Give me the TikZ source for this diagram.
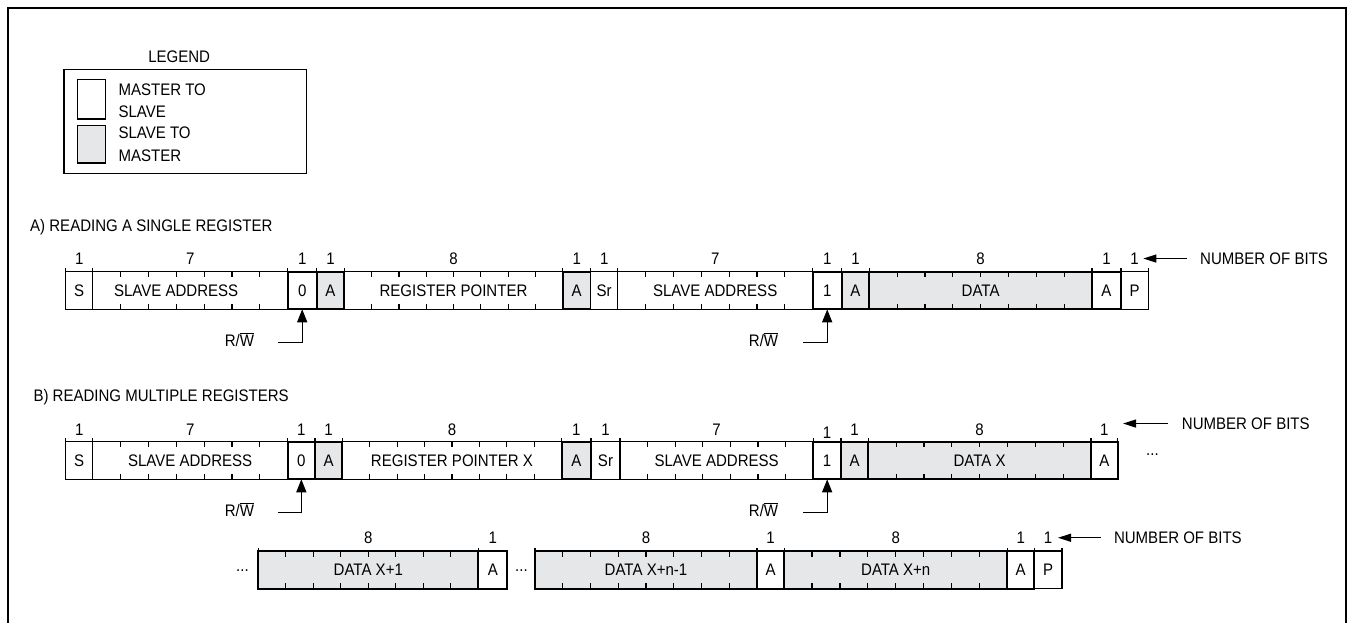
\documentclass[tikz,border=0pt]{standalone}
\usepackage{fontspec}
\setmainfont{Liberation Sans}[FakeStretch=0.9]
\usetikzlibrary{arrows.meta}
\definecolor{shade}{HTML}{E6E7E8}
\newcommand\dgmfont{\fontsize{16.7}{20}\selectfont}
\newcommand\fld[8]{%
  \pgfmathsetmacro\fldw{#4-#3}%
  \pgfmathsetmacro\fldc{(#3+#4)/2}%
  \node[#2, anchor=north west, minimum width=\fldw pt] (#1) at (#3,#5) {#7};
  \node[bitnum, anchor=base] (#1n) at (\fldc,#8) {#6};
  \draw[tk] (#3,#5) -- ++(0,-3.5);
  \ifnum#6>1
    \pgfmathtruncatemacro\fldn{#6-1}%
    \foreach \i in {1,...,\fldn}{%
      \pgfmathsetmacro\tx{#3+\i*\fldw/#6}%
      \draw[tk] (\tx,#5) -- ++(0,5.5);
      \draw[tk] (\tx,#5+37.6) -- ++(0,-5.5);
    }%
  \fi
}
\begin{document}
\begin{tikzpicture}[x=1pt,y=-1pt,
  fbase/.style={draw, inner sep=0pt, outer sep=0pt, minimum height=37.6pt,
    line width=1.2pt, font=\dgmfont, text height=11.96pt, text depth=0pt},
  wfld/.style={fbase, fill=white},
  wfldb/.style={fbase, fill=white, line width=1.9pt},
  gfld/.style={fbase, fill=shade, line width=1.9pt},
  bitnum/.style={inner sep=0pt, font=\dgmfont},
  lbl/.style={inner sep=0pt, font=\dgmfont},
  tk/.style={line width=1.2pt},
  rwarr/.style={line width=1.3pt, -{Triangle[length=13pt,width=10pt]}},
  nbarr/.style={line width=1.3pt, -{Triangle[length=13pt,width=8pt]}},
  dots/.style={inner sep=0pt, font=\dgmfont}
]
\useasboundingbox (0,0) rectangle (1353,623);
% frame
\draw[line width=1.8pt] (8.3,623) -- (8.3,8) -- (1346,8) -- (1346,623);

% legend
\node[lbl, anchor=base] (legt) at (179.2,62.7) {LEGEND};
\node[draw, line width=1.3pt, inner sep=0pt, anchor=north west, minimum width=242.7pt, minimum height=103.7pt] (legbox) at (63.3,69) {};
\node[draw, line width=1.3pt, fill=white, inner sep=0pt, anchor=north west, minimum width=28pt, minimum height=39.3pt] (legw) at (76.7,79) {};
\node[draw, line width=1.3pt, fill=shade, inner sep=0pt, anchor=north west, minimum width=28pt, minimum height=37.3pt] (legg) at (76.7,125) {};
\node[lbl, anchor=base west] (leg1) at (118.3,95.5) {MASTER TO};
\node[lbl, anchor=base west] (leg2) at (118.3,117.3) {SLAVE};
\node[lbl, anchor=base west] (leg3) at (118.3,139) {SLAVE TO};
\node[lbl, anchor=base west] (leg4) at (118.3,161.5) {MASTER};

% ---------- A ----------
\node[lbl, anchor=base west] (titA) at (30,231.5) {A) READING A SINGLE REGISTER};
\fld{aS}{wfld}{65.7}{92.7}{271.7}{1}{S}{264.8}
\fld{aSA}{wfld}{92.7}{287.7}{271.7}{7}{\hspace*{-28pt}SLAVE ADDRESS}{264.8}
\fld{aRW}{wfldb}{287.7}{316.7}{271.7}{1}{0}{264.8}
\fld{aA1}{gfld}{316.7}{344.3}{271.7}{1}{A}{264.8}
\fld{aRP}{wfld}{344.3}{562.7}{271.7}{8}{REGISTER POINTER}{264.8}
\fld{aA2}{gfld}{562.7}{590.7}{271.7}{1}{A}{264.8}
\fld{aSr}{wfld}{590.7}{617.7}{271.7}{1}{Sr}{264.8}
\fld{aSA2}{wfld}{617.7}{812.7}{271.7}{7}{SLAVE ADDRESS}{264.8}
\fld{aRW2}{wfldb}{812.7}{841.7}{271.7}{1}{1}{264.8}
\fld{aA3}{gfld}{841.7}{869.3}{271.7}{1}{A}{264.8}
\fld{aD}{gfld}{869.3}{1092}{271.7}{8}{DATA}{264.8}
\fld{aA4}{wfldb}{1092}{1121}{271.7}{1}{A}{264.8}
\fld{aP}{wfld}{1121}{1148.3}{271.7}{1}{P}{264.8}
\draw[tk] (1148.3,271.7) -- ++(0,-3.5);
\node[lbl, anchor=base west] (nbA) at (1200,264.3) {NUMBER OF BITS};
\draw[nbarr] ([xshift=-13.3pt]nbA.west) -- ++(-43.4,0);
\node[lbl, anchor=base] (rwA1) at (239.5,346) {R/$\overline{\hbox{W}}$};
\coordinate (rwA1s) at (278.3,342.7);
\draw[rwarr] (rwA1s) -| (aRW.south);
\node[lbl, anchor=base] (rwA2) at (763.5,346) {R/$\overline{\hbox{W}}$};
\coordinate (rwA2s) at (803.3,342.7);
\draw[rwarr] (rwA2s) -| (aRW2.south);

% ---------- B ----------
\node[lbl, anchor=base west] (titB) at (33.3,401.5) {B) READING MULTIPLE REGISTERS};
\fld{bS}{wfld}{65.7}{92.7}{441.7}{1}{S}{435}
\fld{bSA}{wfld}{92.7}{287.7}{441.7}{7}{SLAVE ADDRESS}{435}
\fld{bRW}{wfldb}{287.7}{315}{441.7}{1}{0}{435}
\fld{bA1}{gfld}{315}{342.3}{441.7}{1}{A}{435}
\fld{bRP}{wfld}{342.3}{561.7}{441.7}{8}{REGISTER POINTER X}{435}
\fld{bA2}{gfld}{561.7}{591}{441.7}{1}{A}{435}
\fld{bSr}{wfld}{591}{620}{441.7}{1}{Sr}{435}
\fld{bSA2}{wfld}{620}{813.3}{441.7}{7}{SLAVE ADDRESS}{435}
\fld{bRW2}{wfldb}{813.3}{841}{441.7}{1}{1}{438.3}
\fld{bA3}{gfld}{841}{868.3}{441.7}{1}{A}{435}
\fld{bD}{gfld}{868.3}{1091}{441.7}{8}{DATA X}{435}
\fld{bA4}{wfldb}{1091}{1117.7}{441.7}{1}{A}{435}
\draw[tk] (1117.7,441.7) -- ++(0,-3.5);
\node[dots] (bdots) at (1152.5,455) {...};
\node[lbl, anchor=base west] (nbB) at (1181.7,429.3) {NUMBER OF BITS};
\draw[nbarr] ([xshift=-13.7pt]nbB.west) -- ++(-45,0);
\node[lbl, anchor=base] (rwB1) at (239.5,516) {R/$\overline{\hbox{W}}$};
\coordinate (rwB1s) at (278.3,512.7);
\draw[rwarr] (rwB1s) -| (bRW.south);
\node[lbl, anchor=base] (rwB2) at (763.5,516) {R/$\overline{\hbox{W}}$};
\coordinate (rwB2s) at (803.3,512.7);
\draw[rwarr] (rwB2s) -| (bRW2.south);

% ---------- C ----------
\node[dots] (cdots1) at (242.5,571) {...};
\fld{cD1}{gfld}{258.3}{478.3}{551}{8}{DATA X+1}{543}
\fld{cA1}{wfldb}{478.3}{507.3}{551}{1}{A}{543}
\node[dots] (cdots2) at (521.5,571) {...};
\fld{cD2}{gfld}{535}{757}{551}{8}{DATA X+n-1}{543}
\fld{cA2}{wfldb}{757}{784.2}{551}{1}{A}{543}
\fld{cD3}{gfld}{784.2}{1007.3}{551}{8}{DATA X+n}{543}
\fld{cA3}{wfldb}{1007.3}{1034.2}{551}{1}{A}{543}
\fld{cP}{wfld}{1034.2}{1062}{551}{1}{P}{543}
\draw[tk] (1062,551) -- ++(0,-3.5);
\node[lbl, anchor=base west] (nbC) at (1113.8,543.5) {NUMBER OF BITS};
\draw[nbarr] ([xshift=-12.8pt]nbC.west) -- ++(-43,0);
\end{tikzpicture}
\end{document}
